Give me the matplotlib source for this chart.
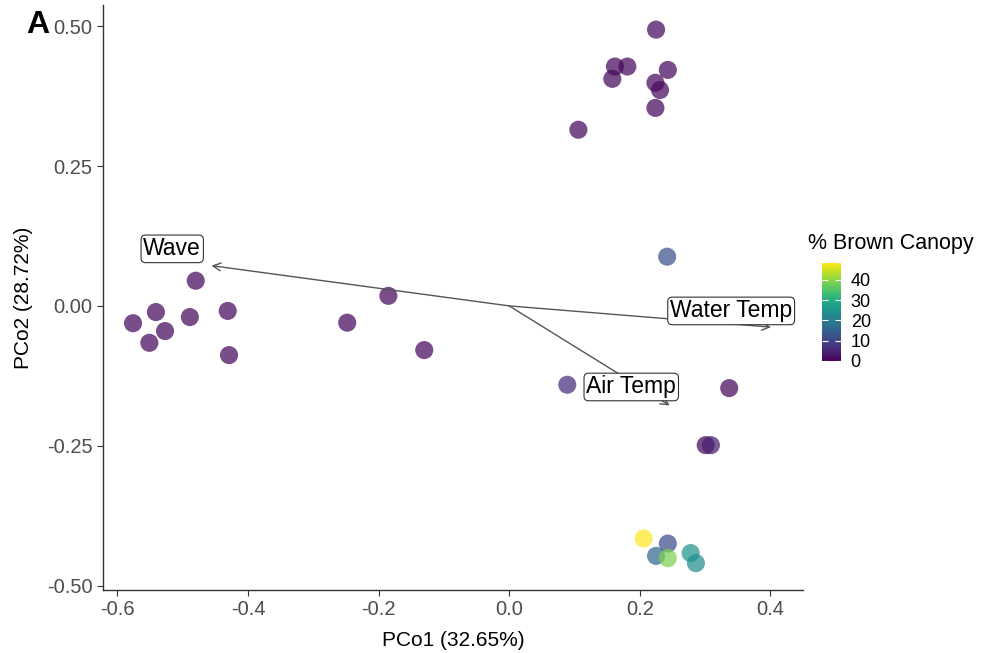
import numpy as np
import matplotlib.pyplot as plt
from matplotlib import cm

plt.rcParams['font.family'] = ['Liberation Sans', 'DejaVu Sans']

# site scores on the first two principal coordinates
pco1 = [0.225, 0.162, 0.181, 0.158, 0.243, 0.224, 0.231, 0.224, 0.106, 0.242,
        -0.480, -0.576, -0.541, -0.551, -0.527, -0.489, -0.431, -0.429,
        -0.185, -0.248, -0.130,
        0.089, 0.337, 0.301, 0.309,
        0.206, 0.243, 0.225, 0.243, 0.278, 0.286]
pco2 = [0.494, 0.428, 0.428, 0.406, 0.422, 0.399, 0.386, 0.354, 0.315, 0.088,
        0.045, -0.031, -0.011, -0.066, -0.045, -0.020, -0.009, -0.088,
        0.018, -0.030, -0.079,
        -0.141, -0.147, -0.249, -0.249,
        -0.416, -0.425, -0.447, -0.451, -0.442, -0.460]
brown = [1, 1, 1, 1, 1, 1, 1, 1, 1, 12,
         1, 1, 1, 1, 1, 1, 1, 1,
         1, 1, 1,
         6, 1, 1, 4,
         48.5, 11, 16, 39, 25, 24]

# environmental vectors
vec_names = ['Wave', 'Water Temp', 'Air Temp']
vec_x = [-0.456, 0.401, 0.246]
vec_y = [0.072, -0.038, -0.178]
lab_x = [-0.516, 0.340, 0.187]
lab_y = [0.102, -0.009, -0.145]

fig = plt.figure(figsize=(9.82, 6.53), dpi=100)
ax = fig.add_axes([0.1049, 0.0965, 0.7128, 0.8958])

sc = ax.scatter(pco1, pco2, c=brown, cmap='viridis', vmin=0, vmax=48.5,
                s=170, alpha=0.72, edgecolors='none', zorder=2)

for name, vx, vy, lx, ly in zip(vec_names, vec_x, vec_y, lab_x, lab_y):
    ax.annotate('', xy=(vx, vy), xytext=(0, 0),
                arrowprops=dict(arrowstyle='->', color='#555555', lw=1.0,
                                mutation_scale=14, shrinkA=0, shrinkB=0),
                zorder=3)
    ax.text(lx, ly, name, fontsize=16.5, ha='center', va='center', zorder=4,
            bbox=dict(boxstyle='round,pad=0.1,rounding_size=0.2',
                      fc='white', ec='#333333', lw=0.8))

ax.set_xlim(-0.622, 0.450)
ax.set_ylim(-0.508, 0.538)
ax.set_xticks([-0.6, -0.4, -0.2, 0.0, 0.2, 0.4])
ax.set_xticklabels(['-0.6', '-0.4', '-0.2', '0.0', '0.2', '0.4'])
ax.set_yticks([-0.5, -0.25, 0.0, 0.25, 0.5])
ax.set_yticklabels(['-0.50', '-0.25', '0.00', '0.25', '0.50'])
ax.tick_params(labelsize=14.5, labelcolor='#4d4d4d', color='#333333',
               length=4, width=0.8)
for s in ['top', 'right']:
    ax.spines[s].set_visible(False)
for s in ['left', 'bottom']:
    ax.spines[s].set_color('#333333')
    ax.spines[s].set_linewidth(1.0)
ax.set_xlabel('PCo1 (32.65%)', fontsize=15, labelpad=8)
ax.set_ylabel('PCo2 (28.72%)', fontsize=15, labelpad=10)

cax = fig.add_axes([0.837, 0.4476, 0.0194, 0.150])
cb = fig.colorbar(sc, cax=cax)
cb.solids.set_alpha(1)
cb.outline.set_visible(False)
cb.set_ticks([0, 10, 20, 30, 40])
cax.tick_params(left=True, right=True, direction='in', color='white',
                length=4, width=0.8, labelsize=13, pad=7)
fig.text(808 / 982, 1 - 243 / 653, '% Brown Canopy', fontsize=15.5,
         ha='left', va='center')

fig.text(38 / 982, 1 - 25 / 653, 'A', fontsize=23, fontweight='bold',
         ha='center', va='center')

fig.savefig('out.png', dpi=100)
